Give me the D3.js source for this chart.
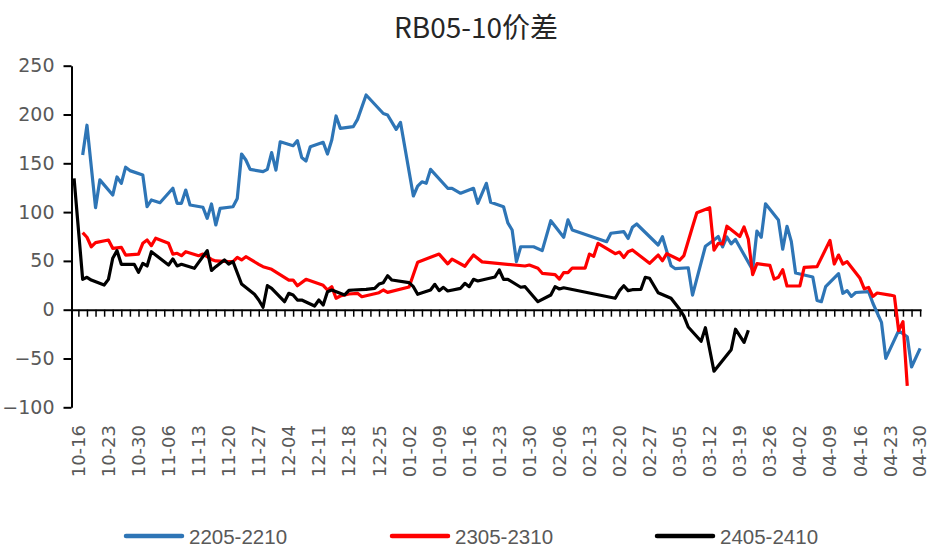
<!DOCTYPE html>
<html><head><meta charset="utf-8">
<script src="https://cdn.jsdelivr.net/npm/d3@7"></script>
<style>
body{margin:0;background:#fff;}
svg{display:block;}
</style></head>
<body>
<svg id="chart" width="930" height="548"></svg>
<script>
// Day offsets are counted from 10-16 (day 0)
const tickLabels = ['10-16','10-23','10-30','11-06','11-13','11-20','11-27','12-04','12-11','12-18','12-25','01-02','01-09','01-16','01-23','01-30','02-06','02-13','02-20','02-27','03-05','03-12','03-19','03-26','04-02','04-09','04-16','04-23','04-30'];
const seriesNames = ['2205-2210','2305-2310','2405-2410'];
const seriesColors = ['#2E75B6','#FF0000','#000000'];

const days2205 = [1,2,4,5,8,9,10,11,12,15,16,17,19,22,23,24,25,26,29,30,31,32,33,36,37,38,39,40,43,44,45,46,47,50,51,52,53,54,57,58,59,60,61,64,65,67,71,72,74,75,78,79,80,81,82,86,87,89,92,93,95,96,99,100,101,102,103,106,108,110,113,114,115,123,124,127,128,129,130,135,136,138,139,142,143,146,148,149,150,151,152,153,157,158,159,160,163,164,165,166,167,168,171,172,173,174,177,178,179,180,181,184,185,187,188,191,193,194,196];
const vals2205 = [158.5,189,104.5,133,117.5,136,129.5,146,142.5,138,105.5,112.4,109.6,124.4,109,109,122.6,107.3,105,93.6,108.3,86.8,103.9,105.5,114,159.5,153.4,143.8,141.4,143.8,160.9,143,172,168,173.2,156,152.3,167,171.5,159.5,173.9,198.5,185.8,187.5,195,220,201,199.5,184.8,192,116.5,126.7,131,129.5,143.8,124.4,124.4,119.3,124.4,109,129.5,110,105.5,89,81.7,49.2,64.5,64.5,60.5,91.2,74.2,92,81.7,69.7,78.3,80,73,84.4,87.8,66.3,74.8,45,42,43,15,65,71.4,75,64.3,74.5,67.5,72,40.7,80.6,74.2,108.5,92,62,85.5,70,37.6,36.6,33.5,9.5,8.2,23.6,37,16.8,19.5,13.6,17.6,18.5,6.6,-13,-49.8,-21.5,-27.7,-58.7,-39.6];

const days2305 = [1,2,3,4,7,8,10,11,14,15,16,17,18,21,22,23,24,25,28,29,30,31,32,35,36,37,38,39,42,43,45,49,50,51,53,57,58,59,60,61,63,65,66,70,71,72,77,79,82,84,86,87,90,91,92,94,104,105,107,108,111,112,113,114,115,118,119,120,121,125,126,127,128,129,133,135,136,137,140,141,143,144,147,148,149,150,151,154,155,156,157,158,161,162,163,164,165,168,169,172,175,176,177,178,179,182,183,184,185,186,189,190,191,192,193];
const vals2305 = [79,74.2,64.5,68.7,71.4,62.9,63.9,56,57,68,71.4,65.6,73.2,68,57,57.8,55.3,59.4,55.3,57,54.3,51.5,50,49.2,49.2,53.7,51,54.3,46.5,44.1,41.4,30.4,30.4,24.6,31.1,25,20.2,23.6,11.7,14,16.1,16.8,13.3,17.4,20.2,17.8,23.3,48.7,53.7,57,47,51.8,44.5,50.5,56,49,44.8,45.8,42.4,37.3,36,31.3,37.9,38,42.7,42.7,57,54.8,68,57.4,59,53.5,59.4,61.2,47.5,56,50.2,57.5,50.9,55.5,85,99.4,104.5,61,68,67.3,85.5,75,84.7,72.1,36,47.2,45.5,31.3,33.2,41,24.3,24.3,43.4,44.1,71,46.8,56,46.8,49.2,32.2,21.4,22.8,13.6,17.1,15,14,-21.5,-12.3,-78];

const days2405 = [-1,1,2,3,6,7,8,9,10,13,14,15,16,17,21,22,23,24,27,30,31,32,34,35,36,38,41,42,43,44,45,48,49,50,51,52,55,56,57,58,59,62,63,64,67,69,70,71,72,73,77,78,79,82,83,84,85,86,89,90,91,92,93,96,97,98,99,100,103,104,106,107,110,111,112,113,125,126,127,128,129,131,132,133,135,138,140,141,142,145,146,148,152,153,155,156];
const vals2405 = [134.6,31.1,33.2,30.4,25.3,31.1,52.7,60.5,46.5,46.5,38.3,47.5,44.8,59.4,45.8,52,44.8,46.5,42.4,60.5,40.2,44.1,51,46.8,49.2,26.3,15.8,9.9,2.5,24.6,21.9,8.2,16.8,15.1,9.9,9.9,3.8,9.9,4.8,18.4,20.2,15.1,19.8,20.2,20.9,21.9,26.3,27.7,34.8,30.4,27.7,23.6,15.8,20.2,26,19.5,22.9,19.2,21.9,27,23.6,31.1,29.4,32.5,33.5,40.7,31.1,31.1,23,23.6,13.3,8.2,15.1,23.6,21.2,22.5,11.7,19.5,24.6,19.5,20.5,20.9,33.2,32.2,17.4,11.7,0.4,-6.5,-17.7,-32.3,-18.5,-63,-41,-20,-33.5,-21];

const yTicks = [-100,-50,0,50,100,150,200,250];

const series = [
  {name: seriesNames[0], color: seriesColors[0], days: days2205, vals: vals2205},
  {name: seriesNames[1], color: seriesColors[1], days: days2305, vals: vals2305},
  {name: seriesNames[2], color: seriesColors[2], days: days2405, vals: vals2405}
];

const svg = d3.select('#chart');
const x = d3.scaleLinear().domain([-1.6, 196.2]).range([71.5, 921]);
const y = d3.scaleLinear().domain([-100, 250]).range([407.3, 65.7]);

// Title
svg.append('text')
  .attr('x', 476).attr('y', 38)
  .attr('text-anchor', 'middle')
  .attr('font-family', '"Noto Sans CJK SC", "DejaVu Sans", sans-serif')
  .attr('font-size', 28)
  .attr('fill', '#262626')
  .text('RB05-10价差');

// Y axis
const yAxis = svg.append('g')
  .attr('transform', `translate(${x(-1.6)},0)`)
  .call(d3.axisLeft(y).tickValues(yTicks).tickSize(8).tickSizeOuter(0).tickPadding(9));
yAxis.select('.domain').attr('stroke', '#000').attr('stroke-width', 2);
yAxis.selectAll('.tick line').attr('stroke', '#000').attr('stroke-width', 2);
yAxis.selectAll('.tick text')
  .attr('font-family', '"DejaVu Sans", sans-serif')
  .attr('font-size', 19)
  .attr('fill', '#595959');

// X axis on zero line (ticks every 2 days)
const xAxis = svg.append('g')
  .attr('transform', `translate(0,${y(0)})`)
  .call(d3.axisBottom(x).tickValues(d3.range(0, 197, 2)).tickSize(7).tickSizeOuter(0).tickFormat(''));
xAxis.select('.domain').attr('stroke', '#000').attr('stroke-width', 2);
xAxis.selectAll('.tick line').attr('stroke', '#000').attr('stroke-width', 1.5);

// X labels at bottom
svg.append('g').selectAll('text')
  .data(tickLabels)
  .join('text')
  .attr('transform', (d, i) => `translate(${Math.min(x(i * 7), 919)},425) rotate(-90)`)
  .attr('text-anchor', 'end')
  .attr('dominant-baseline', 'central')
  .attr('font-family', '"DejaVu Sans", sans-serif')
  .attr('font-size', 18)
  .attr('fill', '#595959')
  .text(d => d);

// Lines
const line = d3.line().x(d => x(d[0])).y(d => y(d[1]));
svg.append('g').selectAll('path')
  .data(series)
  .join('path')
  .attr('d', s => line(s.days.map((d, i) => [d, s.vals[i]])))
  .attr('fill', 'none')
  .attr('stroke', s => s.color)
  .attr('stroke-width', 3.2)
  .attr('stroke-linejoin', 'round');

// Legend
const legendX = [126, 392, 657];
const lg = svg.append('g').selectAll('g')
  .data(series)
  .join('g')
  .attr('transform', (s, i) => `translate(${legendX[i]},536)`);
lg.append('line')
  .attr('x1', 0).attr('x2', 56).attr('y1', 0).attr('y2', 0)
  .attr('stroke', s => s.color).attr('stroke-width', 4.5).attr('stroke-linecap', 'round');
lg.append('text')
  .attr('x', 63).attr('y', 0)
  .attr('dominant-baseline', 'central')
  .attr('font-family', '"Liberation Sans", Arial, sans-serif')
  .attr('font-size', 20.5)
  .attr('fill', '#595959')
  .text(s => s.name);
</script>
</body></html>
